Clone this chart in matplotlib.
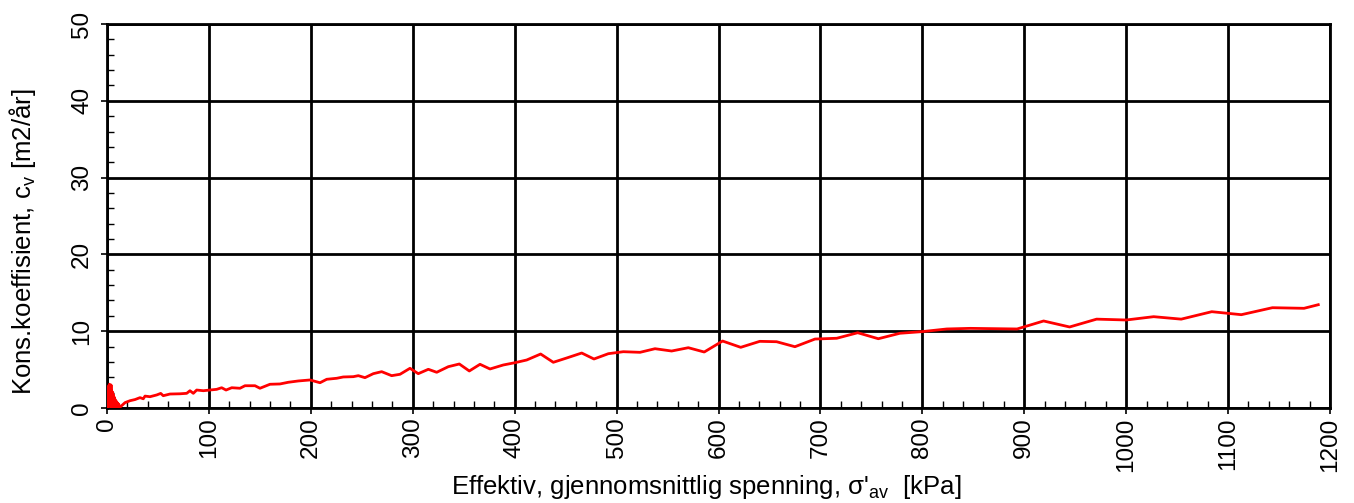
import matplotlib
matplotlib.use("Agg")
import matplotlib.pyplot as plt
from matplotlib.ticker import MultipleLocator

plt.rcParams['font.family'] = ['Liberation Sans', 'DejaVu Sans']
plt.rcParams['mathtext.fontset'] = 'custom'
plt.rcParams['mathtext.rm'] = 'Liberation Sans'
plt.rcParams['mathtext.it'] = 'Liberation Sans:italic'

# Effective mean stress [kPa] and consolidation coefficient [m2/yr]
stress = [0.3, 0.8, 1.2, 1.6, 2.0, 2.4, 2.8, 3.2, 3.6, 4.0, 4.4, 4.8, 5.2, 5.6,
          6.0, 6.4, 6.8, 7.2, 7.6, 8.0, 8.4, 8.8, 9.2, 9.6, 10.0, 10.5, 11.0,
          11.5, 12.0, 12.7,
          17.7, 22.6, 27.5, 32.4, 35.6, 37.3, 42.2, 48.8, 52.7, 55.2, 61.8,
          71.6, 78.2, 81.4, 84.7, 88.0, 94.5, 101.0, 107.6, 112.5, 116.8,
          122.4, 130.5, 135.4, 145.2, 150.1, 159.9, 169.7, 177.9, 187.7,
          199.2, 209.0, 215.6, 225.4, 231.8, 241.7, 246.6, 253.1, 261.3,
          269.5, 279.3, 287.5, 297.3, 305.4, 315.3, 323.5, 334.9, 345.7,
          355.5, 366.0, 375.8, 388.8, 400.3, 411.8, 425.5, 437.9, 451.0,
          465.8, 477.8, 491.9, 506.6, 523.0, 537.7, 554.0, 570.4, 586.0,
          604.0, 621.8, 640.5, 657.0, 675.0, 694.7, 716.0, 736.6, 756.8,
          778.0, 799.4, 824.0, 847.0, 893.0, 919.0, 944.5, 971.0, 1000.0,
          1027.0, 1054.0, 1084.0, 1113.0, 1143.5, 1174.5, 1188.5]
cv = [0.1, 1.5, 0.2, 2.9, 0.3, 3.1, 0.2, 2.6, 0.4, 3.0, 0.1, 2.2, 0.3, 2.0,
      0.1, 1.7, 0.2, 1.4, 0.1, 1.1, 0.3, 0.9, 0.1, 0.8, 0.2, 0.6, 0.1,
      0.5, 0.2, 0.1,
      0.7, 0.95, 1.1, 1.35, 1.2, 1.55, 1.47, 1.7, 1.9, 1.6, 1.82,
      1.85, 1.91, 2.25, 1.91, 2.34, 2.25, 2.34, 2.43, 2.64, 2.34,
      2.64, 2.57, 2.9, 2.9, 2.57, 3.09, 3.13, 3.35, 3.52,
      3.65, 3.29, 3.74, 3.87, 4.04, 4.08, 4.21, 3.95, 4.47,
      4.73, 4.21, 4.39, 5.17, 4.47, 5.04, 4.65, 5.38, 5.73,
      4.82, 5.69, 5.08, 5.6, 5.9, 6.25, 7.03, 5.95, 6.51,
      7.16, 6.38, 7.07, 7.33, 7.25, 7.72, 7.42, 7.85, 7.29,
      8.72, 7.9, 8.68, 8.63, 7.98, 8.98, 9.08, 9.8, 9.02,
      9.73, 9.94, 10.29, 10.37, 10.29, 11.33, 10.55, 11.57, 11.46,
      11.89, 11.57, 12.54, 12.15, 13.06, 12.98, 13.45]

x_ticks = list(range(0, 1201, 100))
y_ticks = [0, 10, 20, 30, 40, 50]

fig = plt.figure(figsize=(13.54, 5.03), dpi=100)
ax = fig.add_axes([107/1354, 1 - 408/503, (1330-107)/1354, (408-24)/503])

ax.plot(stress, cv, color='#ff0000', lw=2.0, zorder=3)

ax.set_xlim(0, 1200)
ax.set_ylim(0, 50)
ax.set_xticks(x_ticks)
ax.set_yticks(y_ticks)
ax.xaxis.set_minor_locator(MultipleLocator(20))
ax.yaxis.set_minor_locator(MultipleLocator(2))
ax.grid(True, which='major', color='black', lw=2.0)
ax.set_axisbelow(True)
for s in ax.spines.values():
    s.set_color('black')
    s.set_linewidth(2.0)

ax.tick_params(which='major', length=4, width=1.2, direction='out', labelsize=17.5)
ax.tick_params(which='minor', length=5, width=1.0, direction='in')
ax.tick_params(axis='x', labelrotation=90, pad=3)
ax.tick_params(axis='y', labelrotation=90, pad=6)
for lab in ax.get_yticklabels():
    lab.set_va('center')

ax.set_xlabel("Effektiv, gjennomsnittlig spenning, σ'$_{\\mathrm{av}}$  [kPa]",
              fontsize=18.5, labelpad=2)
ax.set_ylabel("Kons.koeffisient, c$_{\\mathrm{v}}$ [m2/år]", fontsize=18.5,
              labelpad=24)
ax.xaxis.set_label_coords(0.49, -0.168)
ax.xaxis.label.set_va('top')
ax.yaxis.label.set_y(0.432)

fig.savefig("out.png", dpi=100)
